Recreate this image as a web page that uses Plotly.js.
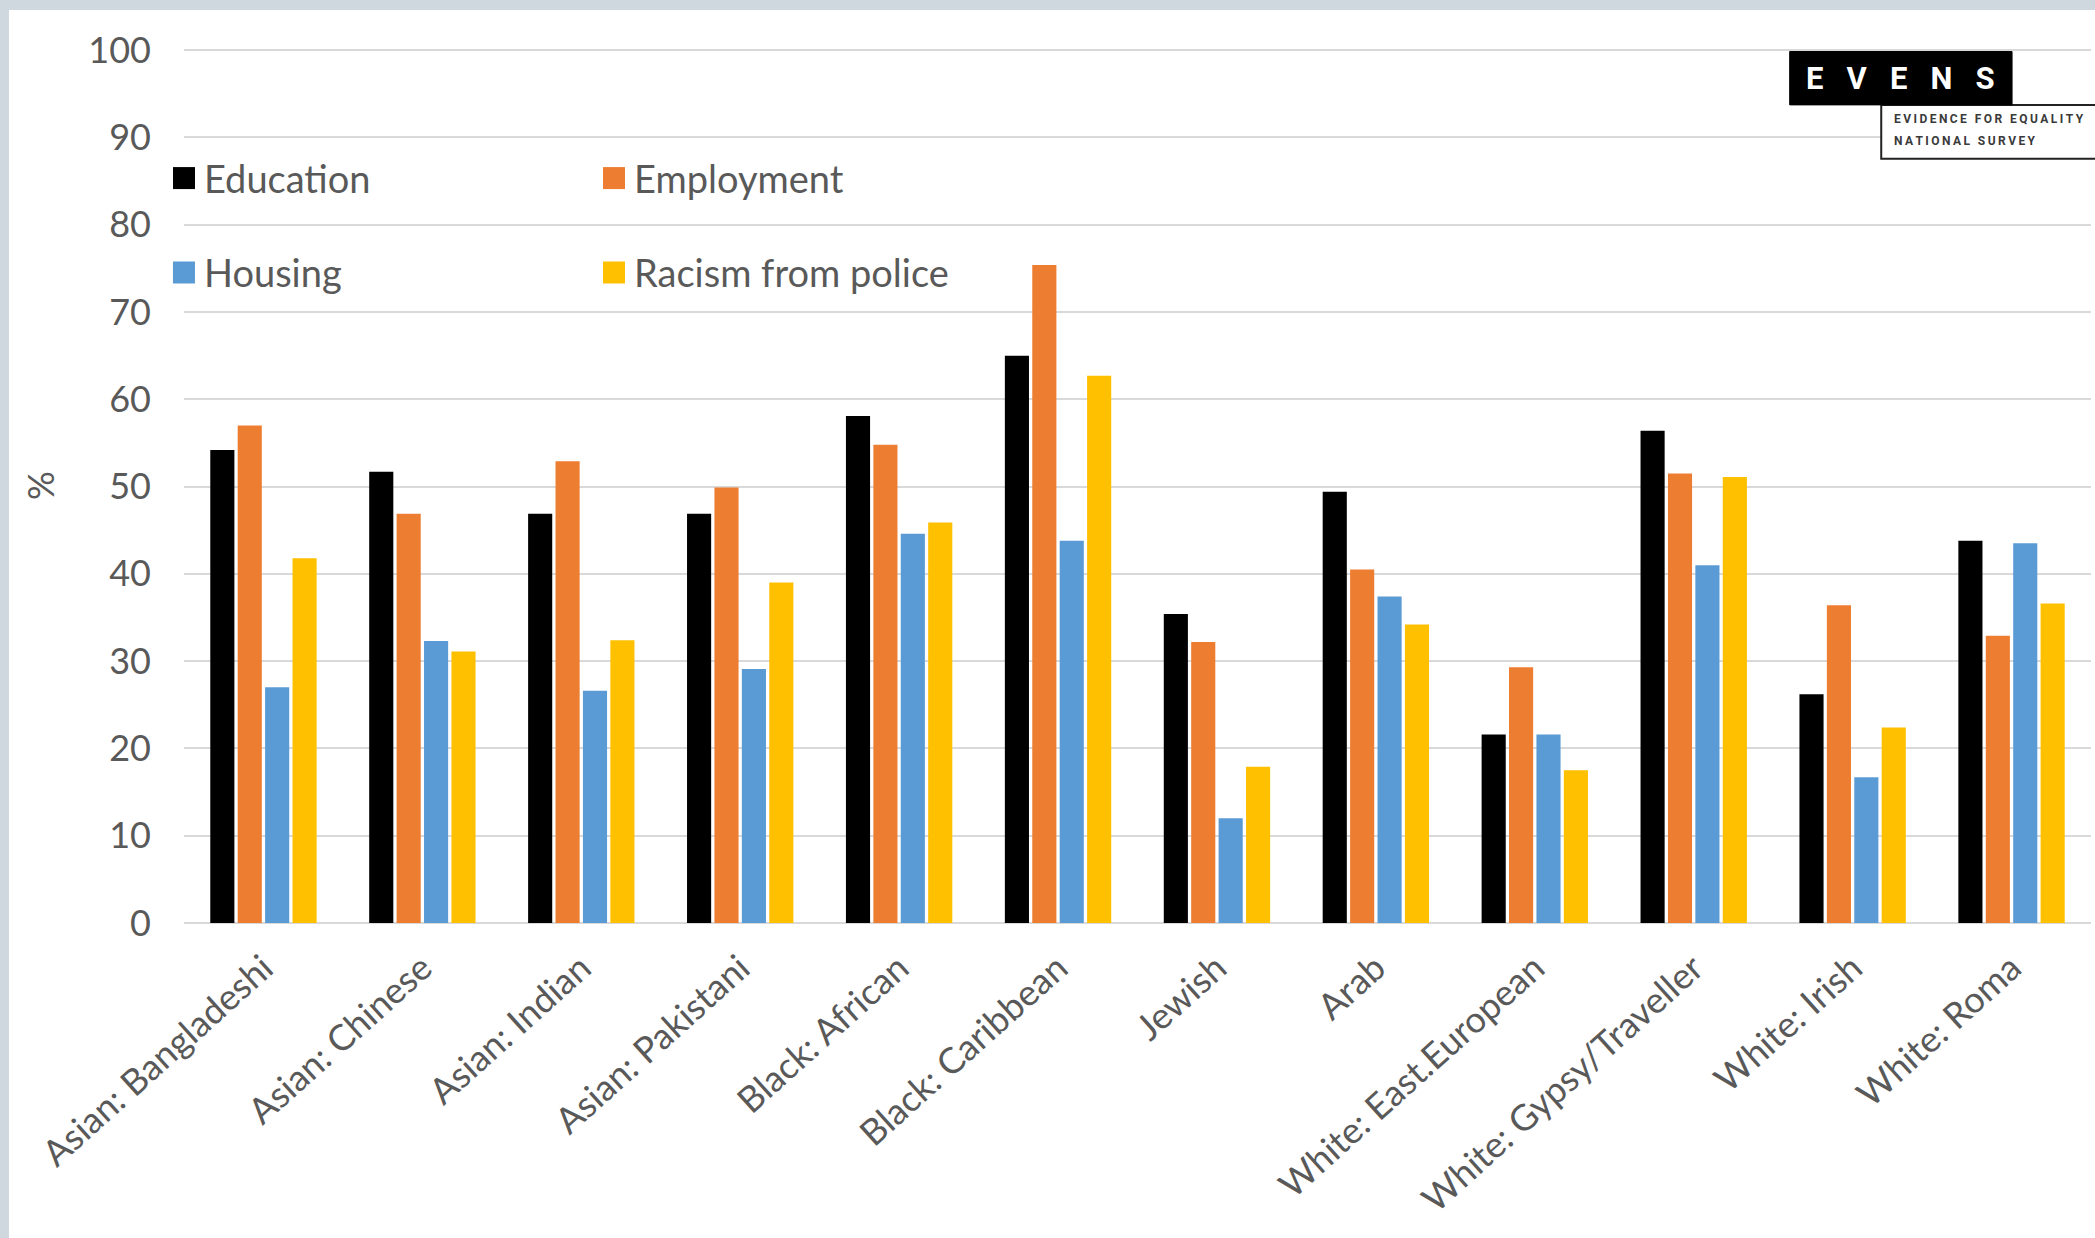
<!DOCTYPE html>
<html>
<head>
<meta charset="utf-8">
<script src="https://cdn.plot.ly/plotly-3.0.1.min.js"></script>
<style>
  html, body { margin: 0; padding: 0; background: #d0d8df; width: 2095px; height: 1238px; overflow: hidden; }
  #chart { position: absolute; left: 9px; top: 10px; width: 2086px; height: 1228px; background: #ffffff; }
</style>
</head>
<body>
<div id="chart"></div>
<script>
const categories = [
  "Asian: Bangladeshi", "Asian: Chinese", "Asian: Indian", "Asian: Pakistani",
  "Black: African", "Black: Caribbean", "Jewish", "Arab",
  "White: East.European", "White: Gypsy/Traveller", "White: Irish", "White: Roma"
];
const education = [54.2, 51.7, 46.9, 46.9, 58.1, 65.0, 35.4, 49.4, 21.6, 56.4, 26.2, 43.8];
const employment = [57.0, 46.9, 52.9, 49.9, 54.8, 75.4, 32.2, 40.5, 29.3, 51.5, 36.4, 32.9];
const housing = [27.0, 32.3, 26.6, 29.1, 44.6, 43.8, 12.0, 37.4, 21.6, 41.0, 16.7, 43.5];
const racismPolice = [41.8, 31.1, 32.4, 39.0, 45.9, 62.7, 17.9, 34.2, 17.5, 51.1, 22.4, 36.6];
const seriesNames = ["Education", "Employment", "Housing", "Racism from police"];
const seriesColors = ["#000000", "#ED7D31", "#5B9BD5", "#FFC000"];
const yTickVals = [0, 10, 20, 30, 40, 50, 60, 70, 80, 90, 100];

const FONT = "Lato, 'Open Sans', sans-serif";
const TXT = "#595959";
const seriesData = [education, employment, housing, racismPolice];
const legendIds = ["legend", "legend2", "legend3", "legend4"];

const traces = seriesData.map((vals, i) => ({
  type: "bar",
  name: seriesNames[i],
  x: categories,
  y: vals,
  marker: { color: seriesColors[i] },
  legend: legendIds[i],
  showlegend: true,
  hoverinfo: "skip"
}));

const legendBase = {
  font: { family: FONT, size: 38, color: TXT },
  bgcolor: "rgba(0,0,0,0)",
  xanchor: "left",
  yanchor: "middle",
  itemwidth: 30,
  borderwidth: 0,
  visible: true
};
const legendPos = [[-0.0105, 0.851], [0.215, 0.851], [-0.0105, 0.743], [0.215, 0.743]];

const thin = "\u2009";
const spaced = s => s.split("").join(thin);

const layout = {
  width: 2086,
  height: 1228,
  showlegend: true,
  paper_bgcolor: "#ffffff",
  plot_bgcolor: "#ffffff",
  margin: { l: 175, r: 4, t: 38, b: 315 },
  barmode: "group",
  bargap: 0.31,
  bargroupgap: 0.12,
  font: { family: FONT, color: TXT },
  xaxis: {
    type: "category",
    tickangle: -42,
    tickfont: { family: FONT, size: 36, color: TXT },
    showgrid: false,
    showline: false,
    ticks: "",
    ticklabelstandoff: 16,
    fixedrange: true
  },
  yaxis: {
    range: [0, 100.25],
    tickvals: yTickVals,
    ticktext: yTickVals.map(String),
    tickfont: { family: FONT, size: 36, color: TXT },
    gridcolor: "#d9d9d9",
    gridwidth: 2,
    zeroline: true,
    zerolinecolor: "#d9d9d9",
    zerolinewidth: 2,
    showline: false,
    ticks: "",
    ticklabelstandoff: 32,
    title: { text: "%", font: { family: FONT, size: 36, color: TXT }, standoff: 22 },
    fixedrange: true
  },
  shapes: [
    { type: "rect", xref: "paper", yref: "paper", x0: 0.890, x1: 1.02, y0: 0.8735, y1: 0.935,
      line: { color: "#222222", width: 2 }, fillcolor: "#ffffff", layer: "above" },
    { type: "rect", xref: "paper", yref: "paper", x0: 0.842, x1: 0.9586, y0: 0.935, y1: 0.996,
      line: { color: "#000000", width: 1 }, fillcolor: "#000000", layer: "above" }
  ],
  annotations: [
    { xref: "paper", yref: "paper", x: 0.9003, y: 0.9655, xanchor: "center", yanchor: "middle",
      text: "E\u00A0\u00A0\u00A0V\u00A0\u00A0\u00A0E\u00A0\u00A0\u00A0N\u00A0\u00A0\u00A0S", showarrow: false,
      font: { family: "Roboto, sans-serif", size: 31, color: "#ffffff", weight: "bold" } },
    { xref: "paper", yref: "paper", x: 0.8955, y: 0.9185, xanchor: "left", yanchor: "middle",
      text: spaced("EVIDENCE FOR EQUALITY"), showarrow: false,
      font: { family: "Roboto, sans-serif", size: 12, color: "#3a3a3a", weight: "bold" } },
    { xref: "paper", yref: "paper", x: 0.8955, y: 0.8935, xanchor: "left", yanchor: "middle",
      text: spaced("NATIONAL SURVEY"), showarrow: false,
      font: { family: "Roboto, sans-serif", size: 12, color: "#3a3a3a", weight: "bold" } }
  ]
};
legendIds.forEach((id, i) => {
  layout[id] = Object.assign({}, legendBase, { x: legendPos[i][0], y: legendPos[i][1] });
});

Plotly.newPlot("chart", traces, layout, { staticPlot: true, displayModeBar: false }).then(() => {
  document.querySelectorAll("#chart .legendpoints path").forEach(p => p.setAttribute("d", "M11,11H-11V-11H11Z"));
});
</script>
</body>
</html>
